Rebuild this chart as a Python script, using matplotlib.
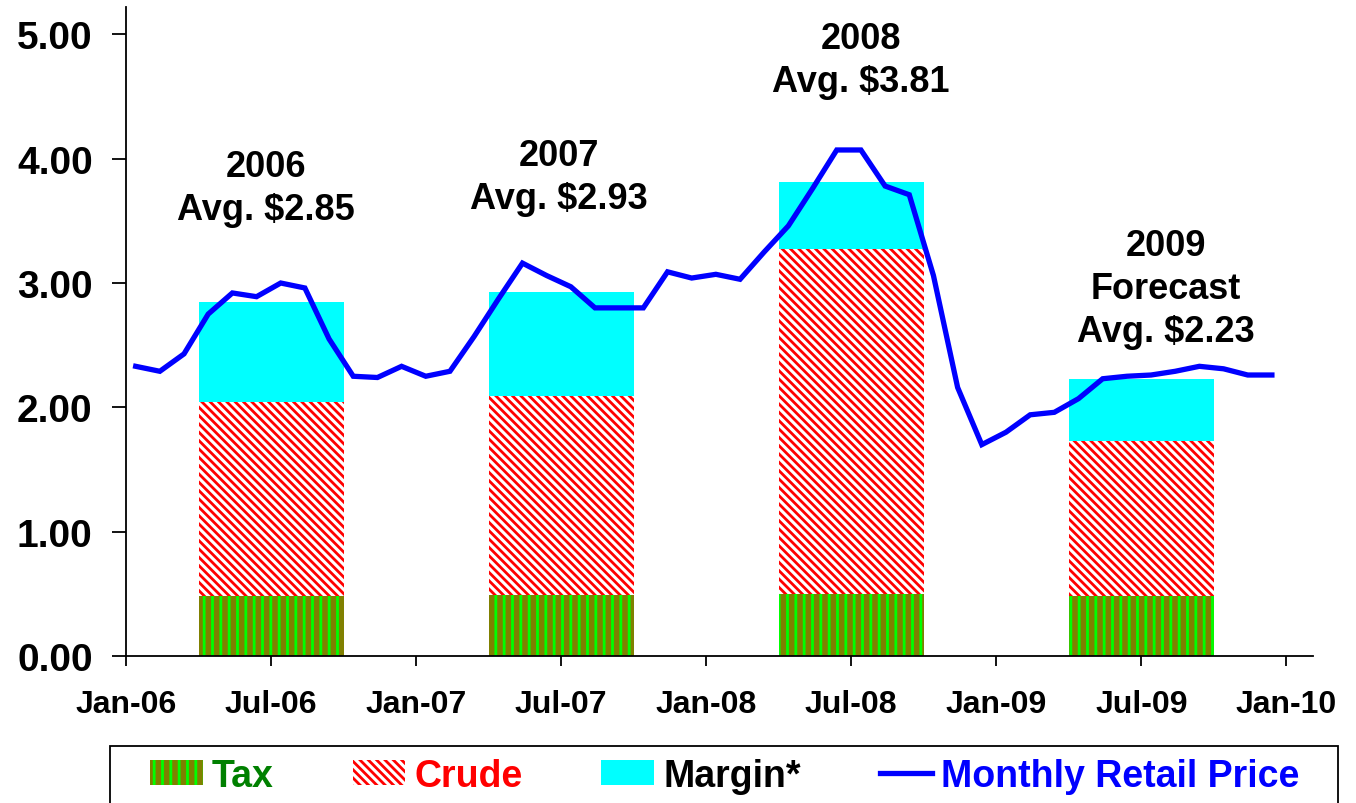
import numpy as np
import matplotlib
matplotlib.use("Agg")
import matplotlib.pyplot as plt
from matplotlib.patches import Rectangle

# ====================================================================
# 1. Data
# ====================================================================

# Monthly retail gasoline price, Jan-06 .. Dec-09 ($/gal)
RETAIL_2006 = [2.33, 2.29, 2.43, 2.75, 2.92, 2.89, 3.00, 2.96, 2.55, 2.25, 2.24, 2.33]
RETAIL_2007 = [2.25, 2.29, 2.57, 2.87, 3.16, 3.06, 2.97, 2.80, 2.80, 2.80, 3.09, 3.04]
RETAIL_2008 = [3.07, 3.03, 3.25, 3.46, 3.76, 4.07, 4.07, 3.78, 3.71, 3.06, 2.16, 1.70]
RETAIL_2009 = [1.80, 1.94, 1.96, 2.07, 2.23, 2.25, 2.26, 2.29, 2.33, 2.31, 2.26, 2.26]
retail = RETAIL_2006 + RETAIL_2007 + RETAIL_2008 + RETAIL_2009

# Annual average price components
YEARS = ["2006", "2007", "2008", "2009"]
TAX = [0.48, 0.49, 0.50, 0.48]
CRUDE = [1.56, 1.60, 2.77, 1.25]
MARGIN = [0.81, 0.84, 0.54, 0.50]
AVG_LABELS = ["2006\nAvg. $2.85", "2007\nAvg. $2.93", "2008\nAvg. $3.81",
              "2009\nForecast\nAvg. $2.23"]

TICK_LABELS = ["Jan-06", "Jul-06", "Jan-07", "Jul-07", "Jan-08",
               "Jul-08", "Jan-09", "Jul-09", "Jan-10"]

# ====================================================================
# 2. Style
# ====================================================================
plt.rcParams['font.family'] = ['Liberation Sans', 'DejaVu Sans']
plt.rcParams['font.weight'] = 'bold'
plt.rcParams['hatch.linewidth'] = 2.0

fig = plt.figure(figsize=(13.56, 8.04), dpi=100)
ax = fig.add_axes([126 / 1356, 1 - 657 / 804, (1313 - 126) / 1356, (657 - 8) / 804])

# x axis in months since Jan-06; bars sit on the middle of each year
months = np.arange(len(retail)) + 0.4
bar_x = np.arange(len(YEARS)) * 12 + 6
tax = np.array(TAX)
crude = np.array(CRUDE)
margin = np.array(MARGIN)

b_tax = ax.bar(bar_x, tax, width=6, color='#808000', edgecolor='#00FF00',
               hatch='||', linewidth=0, label='Tax')
b_crude = ax.bar(bar_x, crude, width=6, bottom=tax, color='white',
                 edgecolor='#FF0000', hatch='\\\\\\\\', linewidth=0, label='Crude')
b_margin = ax.bar(bar_x, margin, width=6, bottom=tax + crude, color='#00FFFF',
                  linewidth=0, label='Margin*')
ln, = ax.plot(months, retail, color='#0000FF', lw=3.8,
              label='Monthly Retail Price', solid_joinstyle='miter')

# year annotations
text_x = [5.8, 17.9, 30.4, 43.0]
text_y = [3.45, 3.54, 4.48, 2.47]
for tx, ty, lab in zip(text_x, text_y, AVG_LABELS):
    ax.text(tx, ty, lab, ha='center', va='bottom', fontsize=26,
            fontweight='bold', linespacing=1.3)

# ====================================================================
# 3. Axes
# ====================================================================
ax.set_xlim(0, 49.1)
ax.set_ylim(0, 5.22)
ax.set_yticks(np.arange(0, 5.01, 1.0))
ax.set_yticklabels([f"{v:.2f}" for v in np.arange(0, 5.01, 1.0)])
ax.set_xticks(np.arange(0, 49, 6))
ax.set_xticklabels(TICK_LABELS)
ax.tick_params(axis='y', labelsize=28, length=10, width=1.3, pad=14)
ax.tick_params(axis='x', labelsize=23, length=7, width=1.3, pad=17)
for s in ['top', 'right']:
    ax.spines[s].set_visible(False)
for s in ['left', 'bottom']:
    ax.spines[s].set_linewidth(1.3)

# legend (frameless) with a box drawn by hand, as in the original
handles = [b_tax, b_crude, b_margin, ln]
labels = ['Tax', 'Crude', 'Margin*', 'Monthly Retail Price']
leg = fig.legend(handles, labels, loc='center left',
                 bbox_to_anchor=(150 / 1356, 1 - 777 / 804),
                 ncol=4, frameon=False, fontsize=27, borderpad=0,
                 borderaxespad=0,
                 handlelength=1.41, handleheight=0.64, handletextpad=0.24,
                 columnspacing=2.1,
                 labelcolor=['#008000', '#FF0000', 'black', '#0000FF'])
fig.add_artist(Rectangle((110 / 1356, 1 - 815 / 804), (1338 - 110) / 1356,
                         (815 - 747) / 804, transform=fig.transFigure,
                         fill=False, edgecolor='black', linewidth=1.3,
                         clip_on=False))

fig.savefig('out.png', dpi=100)
